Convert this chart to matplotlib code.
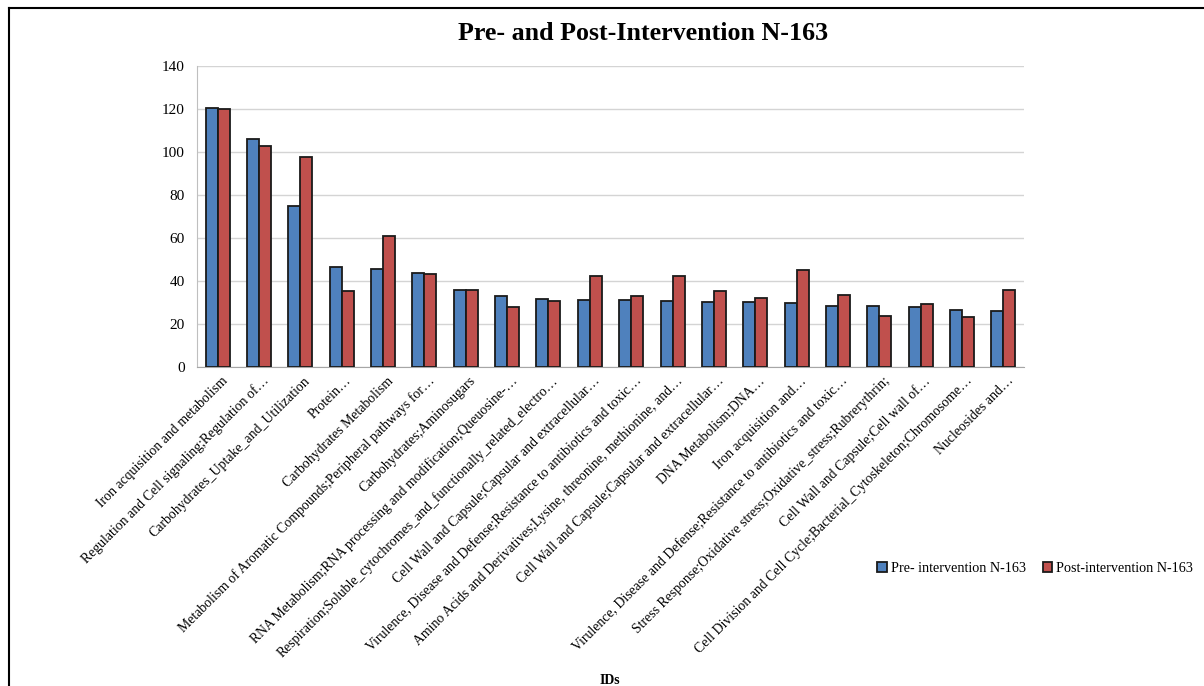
import matplotlib
matplotlib.use("Agg")
import matplotlib.pyplot as plt
import numpy as np
from matplotlib.lines import Line2D
from matplotlib.transforms import ScaledTranslation

categories = [
    "Iron acquisition and metabolism",
    "Regulation and Cell signaling;Regulation of…",
    "Carbohydrates_Uptake_and_Utilization",
    "Protein…",
    "Carbohydrates Metabolism",
    "Metabolism of Aromatic Compounds;Peripheral pathways for…",
    "Carbohydrates;Aminosugars",
    "RNA Metabolism;RNA processing and modification;Queuosine-…",
    "Respiration;Soluble_cytochromes_and_functionally_related_electro…",
    "Cell Wall and Capsule;Capsular and extracellular…",
    "Virulence, Disease and Defense;Resistance to antibiotics and toxic…",
    "Amino Acids and Derivatives;Lysine, threonine, methionine, and…",
    "Cell Wall and Capsule;Capsular and extracellular…",
    "DNA Metabolism;DNA…",
    "Iron acquisition and…",
    "Virulence, Disease and Defense;Resistance to antibiotics and toxic…",
    "Stress Response;Oxidative stress;Oxidative_stress;Rubrerythrin;",
    "Cell Wall and Capsule;Cell wall of…",
    "Cell Division and Cell Cycle;Bacterial_Cytoskeleton;Chromosome…",
    "Nucleosides and…",
]
pre_values = [120.3, 106.0, 75.0, 46.7, 45.5, 43.6, 35.7, 33.1, 31.8, 31.0,
              31.0, 30.6, 30.3, 30.3, 29.7, 28.3, 28.3, 27.8, 26.4, 26.1]
post_values = [119.8, 102.8, 97.6, 35.2, 60.7, 43.2, 35.7, 27.8, 30.6, 42.2,
               32.8, 42.2, 35.2, 32.3, 44.9, 33.5, 23.7, 29.5, 23.1, 36.0]
series_names = ["Pre- intervention N-163", "Post-intervention N-163"]
y_ticks = [0, 20, 40, 60, 80, 100, 120, 140]

plt.rcParams['font.family'] = ['Liberation Serif', 'DejaVu Serif']

fig = plt.figure(figsize=(12.04, 6.86), dpi=100)
W, H = 1204, 686
ax = fig.add_axes([197 / W, 1 - 367 / H, (1024 - 197) / W, (367 - 66) / H])

x = np.arange(len(categories))
bw = 0.29
ax.bar(x - bw / 2, pre_values, bw, color='#4F81BD', edgecolor='#1a1a1a',
       linewidth=1.3, label=series_names[0], zorder=3)
ax.bar(x + bw / 2, post_values, bw, color='#C0504D', edgecolor='#1a1a1a',
       linewidth=1.3, label=series_names[1], zorder=3)

ax.set_xlim(-0.5, len(categories) - 0.5)
ax.set_ylim(0, 140)
ax.set_yticks(y_ticks)
ax.set_yticklabels([str(t) for t in y_ticks], fontsize=11)
ax.yaxis.grid(True, color='#d4d4d4', linewidth=1.0, zorder=0)
ax.set_axisbelow(True)
for s in ['top', 'right']:
    ax.spines[s].set_visible(False)
ax.spines['left'].set_color('#bfbfbf')
ax.spines['bottom'].set_color('#a6a6a6')
ax.tick_params(axis='both', length=0)
ax.tick_params(axis='y', pad=9)

ax.set_xticks(x)
ax.set_xticklabels(categories, rotation=45, ha='right', va='center',
                   rotation_mode='anchor', fontsize=9.9)
off = ScaledTranslation(8 / 100, -7 / 100, fig.dpi_scale_trans)
for lbl in ax.get_xticklabels():
    lbl.set_transform(lbl.get_transform() + off)

fig.text(643 / W, 1 - 34 / H, "Pre- and Post-Intervention N-163", ha='center',
         va='center', fontsize=18.7, fontweight='bold')
fig.text(610 / W, 1 - 680 / H, "IDs", ha='center', va='center',
         fontsize=10, fontweight='bold')

fig.legend(loc='center', bbox_to_anchor=(1035 / W, 1 - 568 / H), ncol=2,
           frameon=False, fontsize=10.2, handlelength=0.7, handleheight=0.7,
           handletextpad=0.25, columnspacing=1.2)

fig.add_artist(Line2D([8.5 / W, 1.0], [1 - 7.5 / H, 1 - 7.5 / H],
                      transform=fig.transFigure, color='black', linewidth=1.5))
fig.add_artist(Line2D([8.5 / W, 8.5 / W], [0, 1 - 7.5 / H],
                      transform=fig.transFigure, color='black', linewidth=1.5))

fig.savefig("out.png", dpi=100)
